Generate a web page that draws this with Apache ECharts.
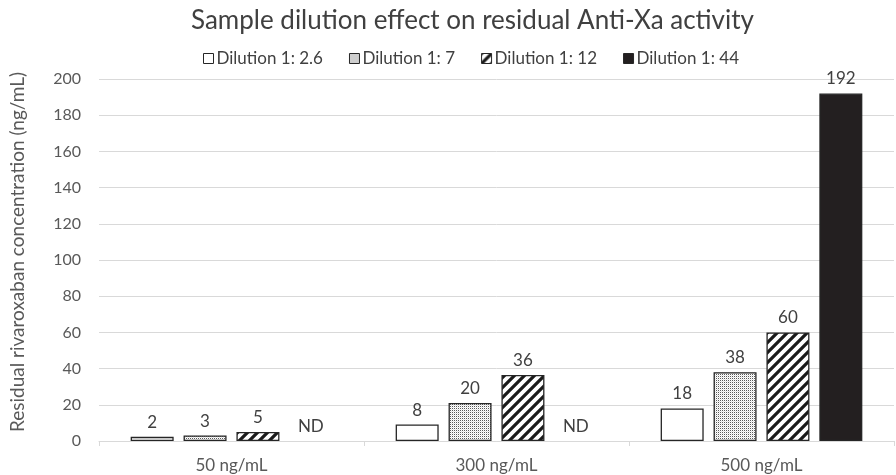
<!DOCTYPE html>
<html><head><meta charset="utf-8">
<script src="https://cdn.jsdelivr.net/npm/echarts@6/dist/echarts.min.js"></script>
<style>html,body{margin:0;padding:0;background:#fff}#c{width:896px;height:475px}</style>
</head><body><div id="c"></div>
<script>
var categories = ['50 ng/mL', '300 ng/mL', '500 ng/mL'];
var seriesNames = ['Dilution 1: 2.6', 'Dilution 1: 7', 'Dilution 1: 12', 'Dilution 1: 44'];
var d26 = [2.3, 9.1, 18];
var d7 = [3, 21, 38];
var d12 = [5, 36.5, 60];
var d44 = [0, 0, 192];
var lab26 = ['2', '8', '18'];
var lab7 = ['3', '20', '38'];
var lab12 = ['5', '36', '60'];
var lab44 = ['ND', 'ND', '192'];
var yTicks = [0, 20, 40, 60, 80, 100, 120, 140, 160, 180, 200];

function makeDots() {
  var c = document.createElement('canvas'); c.width = 2; c.height = 2;
  var g = c.getContext('2d');
  g.fillStyle = '#ffffff'; g.fillRect(0, 0, 2, 2);
  g.fillStyle = '#5a5a5a'; g.fillRect(0, 0, 1, 1);
  g.fillStyle = '#e2e2e2'; g.fillRect(1, 1, 1, 1);
  return c;
}
function makeStripes() {
  var s = 10;
  var c = document.createElement('canvas'); c.width = s; c.height = s;
  var g = c.getContext('2d');
  g.fillStyle = '#ffffff'; g.fillRect(0, 0, s, s);
  g.strokeStyle = '#1a1a1a'; g.lineWidth = 3.2;
  g.beginPath();
  g.moveTo(-3, s + 3); g.lineTo(s + 3, -3);
  g.moveTo(-3, 3); g.lineTo(3, -3);
  g.moveTo(s - 3, s + 3); g.lineTo(s + 3, s - 3);
  g.stroke();
  return c;
}
var fills = ['#ffffff', {image: makeDots(), repeat: 'repeat'}, {image: makeStripes(), repeat: 'repeat'}, '#231f20'];
var datas = [d26, d7, d12, d44];
var labs = [lab26, lab7, lab12, lab44];
var FONT = 'Lato';

var chart = echarts.init(document.getElementById('c'), null, {renderer: 'canvas'});
var series = seriesNames.map(function (n, i) {
  return {
    name: n, type: 'bar',
    data: datas[i].map(function (v, j) {
      return labs[i][j] === 'ND' ? {value: v, itemStyle: {borderWidth: 0}} : v;
    }),
    barWidth: 43, barGap: '23%',
    itemStyle: {color: fills[i], borderColor: '#262626', borderWidth: 1.3},
    label: {
      show: true, position: 'top', distance: 6,
      fontFamily: FONT, fontSize: 17, color: '#404040',
      formatter: (function (arr) { return function (p) { return arr[p.dataIndex]; }; })(labs[i])
    }
  };
});
chart.setOption({
  animation: false,
  backgroundColor: '#ffffff',
  title: {
    text: 'Sample dilution effect on residual Anti-Xa activity',
    left: 186, top: 3,
    textStyle: {fontFamily: FONT, fontSize: 26, fontWeight: 'normal', color: '#404040'}
  },
  legend: {
    top: 45, left: 198, itemWidth: 10, itemHeight: 10, itemGap: 26,
    textStyle: {fontFamily: FONT, fontSize: 17, color: '#404040', padding: [0, 0, 0, -2]},
    icon: 'rect',
    data: seriesNames.map(function (n, i) {
      return {name: n, itemStyle: {color: fills[i], borderColor: '#262626', borderWidth: 1}};
    })
  },
  grid: {left: 99, right: 2, top: 79, bottom: 34, containLabel: false},
  xAxis: {
    type: 'category', data: categories,
    axisLine: {lineStyle: {color: '#d9d9d9', width: 1}},
    axisTick: {show: true, length: 5, lineStyle: {color: '#d9d9d9'}},
    axisLabel: {fontFamily: FONT, fontSize: 17, color: '#595959', margin: 16}
  },
  yAxis: {
    type: 'value', min: yTicks[0], max: yTicks[yTicks.length - 1], interval: 20,
    name: 'Residual rivaroxaban concentration (ng/mL)',
    nameLocation: 'middle', nameGap: 72, nameRotate: 90,
    nameTextStyle: {fontFamily: FONT, fontSize: 19, color: '#595959', padding: [0, 0, 0, 16]},
    axisLine: {show: false}, axisTick: {show: false},
    splitLine: {lineStyle: {color: '#d9d9d9', width: 1}},
    axisLabel: {fontFamily: FONT, fontSize: 16, color: '#595959', margin: 18}
  },
  series: series
});
</script></body></html>
